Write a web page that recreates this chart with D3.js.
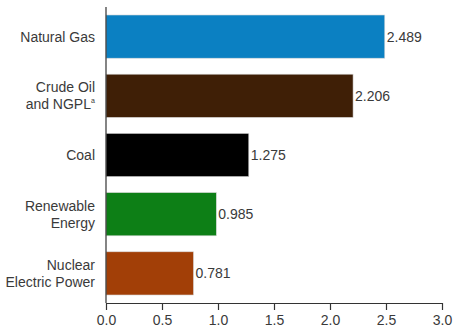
<!DOCTYPE html>
<html><head><meta charset="utf-8">
<script src="https://cdn.jsdelivr.net/npm/d3@7"></script>
<style>body{margin:0;background:#fff;}svg{display:block;font-family:"Liberation Sans",Arial,sans-serif;}</style>
</head><body>
<svg id="c" width="453" height="334"></svg>
<script>
const categories = [["Natural Gas"], ["Crude Oil", "and NGPL"], ["Coal"], ["Renewable", "Energy"], ["Nuclear", "Electric Power"]];
const values = [2.489, 2.206, 1.275, 0.985, 0.781];
const valueLabels = ["2.489", "2.206", "1.275", "0.985", "0.781"];
const colors = ["#0b80c2", "#3f1f06", "#000000", "#0d7f16", "#a23f07"];
const xTicks = [0, 0.5, 1.0, 1.5, 2.0, 2.5, 3.0];

const svg = d3.select("#c");
const x = d3.scaleLinear().domain([0, 3]).range([106, 442]);
const y = d3.scaleBand().domain(d3.range(values.length)).range([7, 303]).paddingInner(0.27).paddingOuter(0.135);

svg.selectAll("rect.bar").data(values).join("rect")
  .attr("class", "bar")
  .attr("x", x(0)).attr("y", (d, i) => y(i))
  .attr("width", d => x(d) - x(0)).attr("height", y.bandwidth())
  .attr("fill", (d, i) => colors[i])
  .attr("stroke", "#d8d8d8").attr("stroke-width", 0.6);

svg.selectAll("text.val").data(values).join("text")
  .attr("class", "val")
  .attr("x", d => x(d) + 2).attr("y", (d, i) => y(i) + y.bandwidth() / 2)
  .attr("dy", "0.35em").attr("font-size", 14).attr("fill", "#3a3a3a")
  .text((d, i) => valueLabels[i]);

const lab = svg.selectAll("text.cat").data(categories).join("text")
  .attr("class", "cat").attr("text-anchor", "end").attr("font-size", 14).attr("fill", "#3a3a3a");
lab.each(function(lines, i) {
  const t = d3.select(this);
  const cy = y(i) + y.bandwidth() / 2;
  const lh = 17;
  lines.forEach((l, k) => {
    t.append("tspan").attr("x", i === 1 && k === 1 ? 91 : 95).attr("y", cy + (k - (lines.length - 1) / 2) * lh).attr("dy", "0.35em").text(l);
  });
  if (i === 1) {
    t.append("tspan").attr("x", 95).attr("y", cy + lh / 2 - 4).attr("dy", "0.35em").attr("font-size", 7).text("a");
  }
});

// y axis line
svg.append("line").attr("x1", 106).attr("x2", 106).attr("y1", 7).attr("y2", 303).attr("stroke", "#333").attr("stroke-width", 1.2);

const xAxis = d3.axisBottom(x).tickValues(xTicks).tickFormat(d3.format(".1f")).tickSizeInner(6).tickSizeOuter(0);
const gx = svg.append("g").attr("transform", "translate(0,303)").call(xAxis);
gx.select(".domain").attr("stroke", "#333").attr("stroke-width", 1.2);
gx.selectAll(".tick line").attr("stroke", "#333").attr("stroke-width", 1.2).attr("y1", 0).attr("y2", 7);
gx.selectAll(".tick text").attr("font-size", 14).attr("fill", "#3a3a3a").attr("y", 12).attr("font-family", "Liberation Sans, Arial, sans-serif");
</script>
</body></html>
